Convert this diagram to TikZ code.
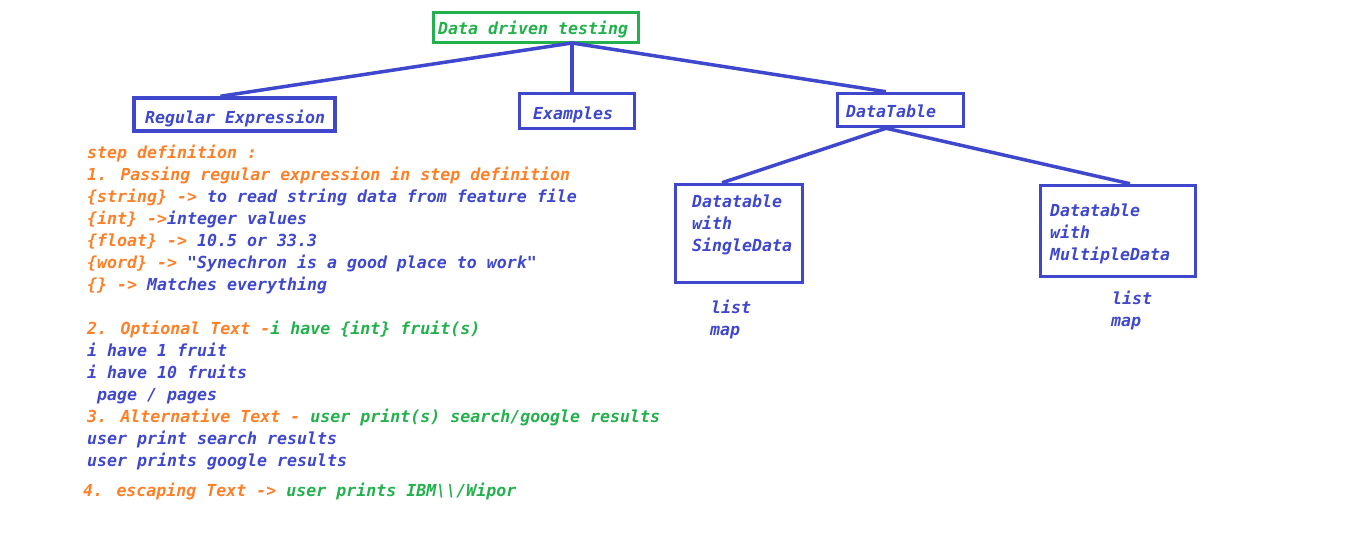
\documentclass[tikz,border=0pt]{standalone}
\usepackage{fontspec}
\newfontfamily\dmono{DejaVu Sans Mono}
\definecolor{cblue}{HTML}{3F48CC}
\definecolor{corange}{HTML}{FF7F27}
\definecolor{cgreen}{HTML}{22B14C}
\newcommand{\og}[1]{\textcolor{corange}{#1}}
\newcommand{\gr}[1]{\textcolor{cgreen}{#1}}
\begin{document}
\begin{tikzpicture}[x=1pt,y=-1pt,
  txt/.style={anchor=base west, inner sep=0pt, text=cblue, yshift=-1.5pt,
    font=\dmono\bfseries\itshape\fontsize{16.6}{22}\selectfont},
  box/.style={draw=cblue, line width=3.5pt, inner sep=0pt},
  link/.style={draw=cblue, line width=3.5pt}]
\useasboundingbox (0,0) rectangle (1360,537);

% boxes
\node[box, draw=cgreen, minimum width=205pt, minimum height=30pt] (root) at (536,27.5) {};
\node[box, minimum width=201pt, minimum height=33pt] (regex) at (234.5,114.5) {};
\node[box, minimum width=115pt, minimum height=35pt] (examples) at (577,111) {};
\node[box, minimum width=126pt, minimum height=33pt] (dt) at (900.5,110) {};
\node[box, minimum width=127pt, minimum height=98pt] (single) at (739,233.5) {};
\node[box, minimum width=155pt, minimum height=91pt] (multi) at (1118,231) {};

% box texts
\node[txt, text=cgreen] (roottxt) at (438,33) {Data driven testing};
\node[txt] (regextxt) at (145,122) {Regular Expression};
\node[txt] (extxt) at (533,118) {Examples};
\node[txt] (dttxt) at (846,116) {DataTable};
\node[txt] (s1) at (692,206) {Datatable};
\node[txt] (s2) at (692,228) {with};
\node[txt] (s3) at (692,250) {SingleData};
\node[txt] (m1) at (1050,215) {Datatable};
\node[txt] (m2) at (1050,237) {with};
\node[txt] (m3) at (1050,259) {MultipleData};
\node[txt] (l1) at (711,312) {list};
\node[txt] (l2) at (710,334) {map};
\node[txt] (l3) at (1112,303) {list};
\node[txt] (l4) at (1111,325) {map};

% connectors
\coordinate (apex) at (572,43);
\draw[link] (apex) -- ([xshift=-14pt]regex.north);
\draw[link] (apex) -- (apex |- examples.north);
\draw[link] (apex) -- ([xshift=-14.5pt]dt.north);
\draw[link] ([xshift=-14.5pt]dt.south) -- ([xshift=-17pt]single.north);
\draw[link] ([xshift=-14.5pt]dt.south) -- ([xshift=12pt]multi.north);

% left column
\node[txt, text=corange] (t0) at (87,157) {step definition :};
\node[txt, text=corange] (t1) at (87,179) {1. Passing regular expression in step definition};
\node[txt] (t2) at (87,201) {\og{\{string\} -> }to read string data from feature file};
\node[txt] (t3) at (87,223) {\og{\{int\} ->}integer values};
\node[txt] (t4) at (87,245) {\og{\{float\} -> }10.5 or 33.3};
\node[txt] (t5) at (87,267) {\og{\{word\} -> }"Synechron is a good place to work"};
\node[txt] (t6) at (87,289) {\og{\{\} -> }Matches everything};
\node[txt] (t7) at (87,333) {\og{2. Optional Text -}\gr{i have \{int\} fruit(s)}};
\node[txt] (t8) at (87,355) {i have 1 fruit};
\node[txt] (t9) at (87,377) {i have 10 fruits};
\node[txt] (t10) at (97,399) {page / pages};
\node[txt] (t11) at (87,421) {\og{3. Alternative Text - }\gr{user print(s) search/google results}};
\node[txt] (t12) at (87,443) {user print search results};
\node[txt] (t13) at (87,465) {user prints google results};
\node[txt] (t14) at (83,495) {\og{4. escaping Text -> }\gr{user prints IBM\textbackslash\textbackslash/Wipor}};
\end{tikzpicture}
\end{document}
